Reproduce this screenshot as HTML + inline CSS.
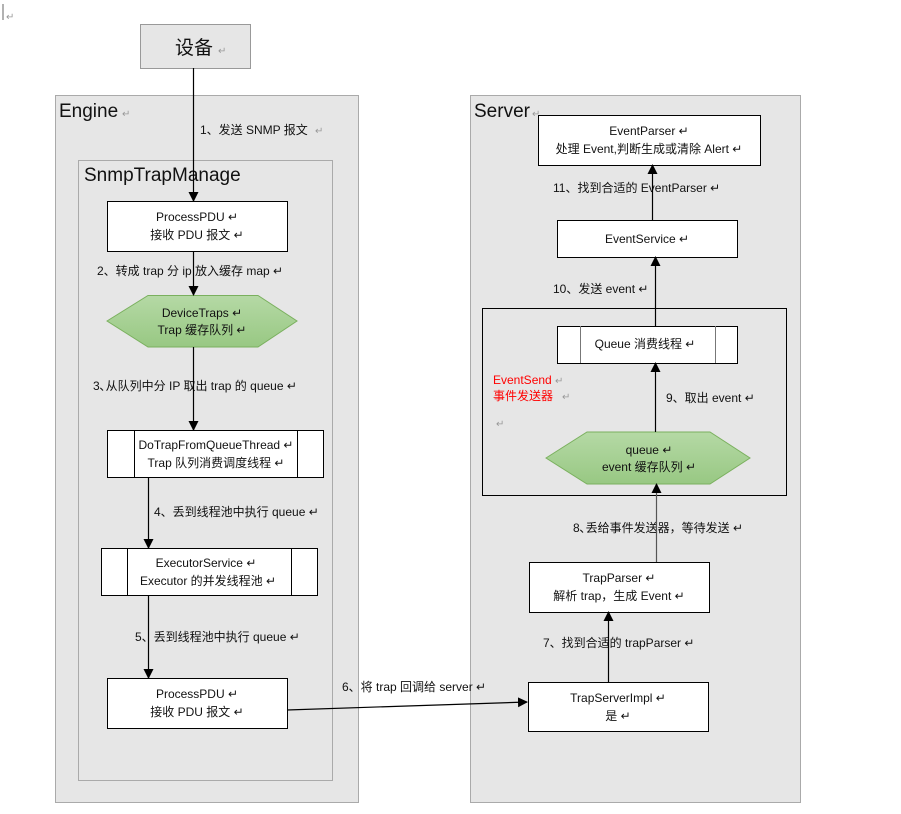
<!DOCTYPE html>
<html><head><meta charset="utf-8"><style>
body{margin:0;background:#fff;}
svg text{font-family:"Liberation Sans","Noto Sans CJK SC",sans-serif;font-size:12px;fill:#111;}
.r{fill:#999;font-size:10px;}
</style></head><body>
<svg width="901" height="809" viewBox="0 0 901 809" xmlns="http://www.w3.org/2000/svg">
<defs>
<marker id="a" markerWidth="10" markerHeight="10" refX="9" refY="5" orient="auto" markerUnits="userSpaceOnUse"><path d="M0,0 L10,5 L0,10 z" fill="#000"/></marker>
<linearGradient id="g" x1="0" y1="0" x2="0" y2="1"><stop offset="0" stop-color="#b5d9a5"/><stop offset="1" stop-color="#98c883"/></linearGradient>
</defs>
<line x1="3" y1="4" x2="3" y2="20" stroke="#666"/>
<text x="6" y="20" class="r">↵</text>
<!-- Device -->
<rect x="140.5" y="24.5" width="110" height="44" fill="#e6e6e6" stroke="#999"/>
<text x="175" y="54" style="font-size:19px">设备</text><text x="218" y="54" class="r">↵</text>
<!-- Engine -->
<rect x="55.5" y="95.5" width="303" height="707" fill="#e6e6e6" stroke="#aaa"/>
<text x="59" y="117" style="font-size:19px">Engine</text><text x="122" y="117" class="r">↵</text>
<rect x="78.5" y="160.5" width="254" height="620" fill="#e6e6e6" stroke="#aaa"/>
<text x="84" y="181" style="font-size:19px">SnmpTrapManage</text>
<text x="200" y="134">1、发送 SNMP 报文</text><text x="315" y="134" class="r">↵</text>
<!-- ProcessPDU -->
<rect x="107.5" y="201.5" width="180" height="50" fill="#fff" stroke="#000"/>
<text x="197" y="221" text-anchor="middle">ProcessPDU ↵</text>
<text x="197" y="239" text-anchor="middle">接收 PDU 报文 ↵</text>
<text x="97" y="275">2、转成 trap 分 ip 放入缓存 map ↵</text>
<polygon points="107,321 148,295.5 258,295.5 297,321 258,347 148,347" fill="url(#g)" stroke="#7ab05e"/>
<text x="202" y="317" text-anchor="middle">DeviceTraps ↵</text>
<text x="202" y="334" text-anchor="middle">Trap 缓存队列 ↵</text>
<text x="93" y="390">3､从队列中分 IP 取出 trap 的 queue ↵</text>
<rect x="107.5" y="430.5" width="216" height="47" fill="#fff" stroke="#000"/>
<line x1="134.5" y1="430" x2="134.5" y2="477" stroke="#000"/><line x1="297.5" y1="430" x2="297.5" y2="477" stroke="#000"/>
<text x="216" y="449" text-anchor="middle">DoTrapFromQueueThread ↵</text>
<text x="216" y="467" text-anchor="middle">Trap 队列消费调度线程 ↵</text>
<text x="154" y="516">4、丢到线程池中执行 queue ↵</text>
<rect x="101.5" y="548.5" width="216" height="47" fill="#fff" stroke="#000"/>
<line x1="127.5" y1="548" x2="127.5" y2="595" stroke="#000"/><line x1="291.5" y1="548" x2="291.5" y2="595" stroke="#000"/>
<text x="206" y="567" text-anchor="middle">ExecutorService ↵</text>
<text x="208" y="585" text-anchor="middle">Executor 的并发线程池 ↵</text>
<text x="135" y="641">5、丢到线程池中执行 queue ↵</text>
<rect x="107.5" y="678.5" width="180" height="50" fill="#fff" stroke="#000"/>
<text x="197" y="698" text-anchor="middle">ProcessPDU ↵</text>
<text x="197" y="716" text-anchor="middle">接收 PDU 报文 ↵</text>
<!-- Server -->
<rect x="470.5" y="95.5" width="330" height="707" fill="#e6e6e6" stroke="#aaa"/>
<text x="474" y="117" style="font-size:19px">Server</text><text x="532" y="117" class="r">↵</text>
<rect x="538.5" y="115.5" width="222" height="50" fill="#fff" stroke="#000"/>
<text x="649" y="135" text-anchor="middle">EventParser ↵</text>
<text x="649" y="153" text-anchor="middle">处理 Event,判断生成或清除 Alert ↵</text>
<text x="553" y="192">11、找到合适的 EventParser ↵</text>
<rect x="557.5" y="220.5" width="180" height="37" fill="#fff" stroke="#000"/>
<text x="647" y="243" text-anchor="middle">EventService ↵</text>
<text x="553" y="293">10、发送 event ↵</text>
<rect x="482.5" y="308.5" width="304" height="187" fill="#e6e6e6" stroke="#000"/>
<rect x="557.5" y="326.5" width="180" height="37" fill="#fff" stroke="#000"/>
<line x1="580.5" y1="326" x2="580.5" y2="363" stroke="#777"/><line x1="715.5" y1="326" x2="715.5" y2="363" stroke="#777"/>
<text x="645" y="348" text-anchor="middle">Queue 消费线程 ↵</text>
<text x="493" y="384" style="fill:#f00">EventSend</text><text x="555" y="384" class="r">↵</text>
<text x="493" y="400" style="fill:#f00">事件发送器</text><text x="562" y="400" class="r">↵</text>
<text x="496" y="427" class="r">↵</text>
<text x="666" y="402">9、取出 event ↵</text>
<polygon points="546,458 587,432 710,432 750,458 710,484 587,484" fill="url(#g)" stroke="#7ab05e"/>
<text x="649" y="454" text-anchor="middle">queue ↵</text>
<text x="649" y="471" text-anchor="middle">event 缓存队列 ↵</text>
<text x="573" y="532">8､丢给事件发送器，等待发送 ↵</text>
<rect x="529.5" y="562.5" width="180" height="50" fill="#fff" stroke="#000"/>
<text x="619" y="582" text-anchor="middle">TrapParser ↵</text>
<text x="619" y="600" text-anchor="middle">解析 trap，生成 Event ↵</text>
<text x="543" y="647">7、找到合适的 trapParser ↵</text>
<rect x="528.5" y="682.5" width="180" height="49" fill="#fff" stroke="#000"/>
<text x="618" y="702" text-anchor="middle">TrapServerImpl ↵</text>
<text x="618" y="720" text-anchor="middle">是 ↵</text>
<text x="342" y="691">6、将 trap 回调给 server ↵</text>
<!-- arrows -->
<g stroke="#000" stroke-width="1.2" fill="none" marker-end="url(#a)">
<line x1="193.5" y1="68" x2="193.5" y2="201"/>
<line x1="193.5" y1="251" x2="193.5" y2="295"/>
<line x1="193.5" y1="347" x2="193.5" y2="430"/>
<line x1="148.5" y1="477" x2="148.5" y2="548"/>
<line x1="148.5" y1="595" x2="148.5" y2="678"/>
<line x1="287" y1="710" x2="527" y2="702"/>
<line x1="608.5" y1="682" x2="608.5" y2="612"/>
<line x1="656.5" y1="562" x2="656.5" y2="484" stroke="#555"/>
<line x1="655.5" y1="432" x2="655.5" y2="363"/>
<line x1="655.5" y1="326" x2="655.5" y2="257"/>
<line x1="652.5" y1="220" x2="652.5" y2="165"/>
</g>
</svg>
</body></html>
